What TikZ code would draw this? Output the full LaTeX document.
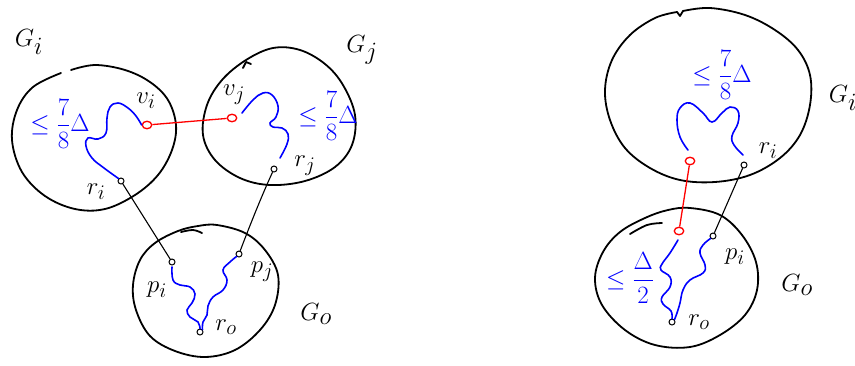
\documentclass[tikz,border=0pt]{standalone}
\usetikzlibrary{shapes.geometric}
\begin{document}
\begin{tikzpicture}[x=1pt,y=-1pt,
  blob/.style={line width=1.8pt, line cap=round, line join=round},
  conn/.style={line width=1.1pt},
  redconn/.style={line width=1.3pt, red},
  wig/.style={line width=1.6pt, blue, line cap=round},
  bv/.style={circle, draw, line width=1pt, inner sep=0pt, minimum size=6pt},
  rv/.style={ellipse, draw=red, line width=1.3pt, inner sep=0pt, minimum width=9.5pt, minimum height=7.5pt},
  lab/.style={font=\fontsize{28}{32}\selectfont, inner sep=0pt},
  big/.style={font=\fontsize{40}{46}\selectfont, inner sep=0pt},
  fr/.style={blue, font=\fontsize{25}{30}\selectfont, inner sep=0pt}]
\useasboundingbox (0,0) rectangle (855,365);
\clip (0,0) rectangle (855,365);

% ---------- left picture: blobs ----------
\draw[blob] plot[smooth, tension=0.6] coordinates {(71,70) (95,65) (125,70) (150,82) (168,100) (176,125) (172,150) (158,175) (135,195) (105,209) (75,209) (45,196) (22,172) (12,140) (17,110) (33,87) (61,73)};
\draw[blob] plot[smooth cycle, tension=0.6] coordinates {(273,48) (300,50) (325,64) (343,85) (355,115) (352,145) (335,167) (305,181) (270,185) (240,178) (215,160) (203,135) (207,105) (222,80) (246,60)};
\draw[blob] (243,68) -- (246,62) -- (251,64);
\draw[blob] plot[smooth cycle, tension=0.6] coordinates {(217,225) (245,233) (265,250) (278,275) (275,305) (260,330) (235,350) (205,357) (175,351) (150,336) (136,310) (133,285) (140,260) (155,243) (178,231) (198,226)};
\draw[blob] plot[smooth, tension=0.6] coordinates {(181,232) (193,230) (202,233)};

% ---------- left picture: labels ----------
\node[big] (Gi) at (29,42) {$G_i$};
\node[big] (Gj) at (362,50) {$G_j$};
\node[big] (G0) at (316,314) {$G_o$};

\node[lab] (lvi) at (146,101) {$v_i$};
\node[lab] (lri) at (96,192) {$r_i$};
\node[lab] (lvj) at (234,95) {$v_j$};
\node[lab] (lrj) at (305,166) {$r_j$};
\node[lab] (lpi) at (157,290) {$p_i$};
\node[lab] (lpj) at (262,272) {$p_j$};
\node[lab] (lr0) at (226,327) {$r_o$};

\node[fr] (fi) at (60,124) {$\displaystyle\le\frac{7}{8}\Delta$};
\node[fr] (fj) at (328,116) {$\displaystyle\le\frac{7}{8}\Delta$};

% ---------- left picture: vertices ----------
\node[rv] (vi) at (147,125) {};
\node[rv] (vj) at (232,118) {};
\node[bv] (ri) at (121,181) {};
\node[bv] (rj) at (274,169) {};
\node[bv] (pi) at (172,262) {};
\node[bv] (pj) at (239,254) {};
\node[bv] (r0) at (200,332) {};

% ---------- left picture: connectors ----------
\draw[redconn] (vi) -- (vj);
\draw[conn] (ri) -- (pi);
\draw[conn] (rj) .. controls (262,195) and (250,225) .. (pj);

\draw[wig] plot[smooth, tension=0.7] coordinates {(ri.north west) (104,168) (92,158) (86,146) (88,138) (98,139) (106,133) (107,118) (110,107) (118,103) (128,108) (136,116) (vi.west)};
\draw[wig] plot[smooth, tension=0.7] coordinates {(242,113) (253,100) (263,93) (272,95) (278,106) (276,117) (270,123) (273,127) (282,128) (288,134) (287,144) (280,158)};
\draw[wig] plot[smooth, tension=0.7] coordinates {(172,267) (173,280) (180,285) (190,287) (195,294) (192,303) (187,310) (190,317) (198,322) (r0.north)};
\draw[wig] plot[smooth, tension=0.7] coordinates {(pj.south west) (230,262) (223,270) (227,280) (223,290) (213,297) (208,306) (207,315) (203,322) (r0.north east)};

% ---------- right picture: blobs ----------
\draw[blob] plot[smooth, tension=0.6] coordinates {(683,11) (710,8) (745,15) (775,30) (798,50) (810,75) (810,105) (800,135) (780,158) (750,175) (715,182) (680,180) (650,168) (625,148) (610,120) (605,90) (612,60) (630,35) (655,18) (677,12)};
\draw[blob] (677,12) -- (680,16) -- (683,11);
\draw[blob] plot[smooth cycle, tension=0.6] coordinates {(690,208) (720,215) (742,235) (756,262) (757,290) (745,315) (720,335) (690,347) (655,345) (625,330) (602,305) (595,278) (603,252) (620,232) (645,218) (668,210)};
\draw[blob] plot[smooth, tension=0.6] coordinates {(630,234) (647,225) (662,223)};

% ---------- right picture: labels ----------
\node[big] (RGi) at (843,98) {$G_i$};
\node[big] (RG0) at (797,285) {$G_o$};
\node[lab] (Rlri) at (768,151) {$r_i$};
\node[lab] (Rlpi) at (735,257) {$p_i$};
\node[lab] (Rlr0) at (699,322) {$r_o$};
\node[fr] (Rfi) at (722,75) {$\displaystyle\le\frac{7}{8}\Delta$};
\node[fr] (Rf0) at (630,278) {$\displaystyle\le\frac{\Delta}{2}$};

% ---------- right picture: vertices ----------
\node[rv] (Ra) at (690,161) {};
\node[bv] (Rri) at (744,165) {};
\node[rv] (Rb) at (679,231) {};
\node[bv] (Rpi) at (713,236) {};
\node[bv] (Rr0) at (672,322) {};

% ---------- right picture: connectors ----------
\draw[redconn] (Ra) -- (Rb);
\draw[conn] (Rri) -- (Rpi);

\draw[wig] plot[smooth, tension=0.7] coordinates {(688,150) (680,137) (677,120) (680,108) (690,103) (703,113) (712,122) (722,113) (730,107) (738,111) (738,123) (732,136) (734,145) (743,155)};
\draw[wig] plot[smooth, tension=0.7] coordinates {(678,240) (670,253) (662,264) (661,270) (670,277) (670,287) (662,297) (663,304) (671,311) (Rr0.north)};
\draw[wig] plot[smooth, tension=0.7] coordinates {(Rpi.south west) (703,245) (700,253) (705,265) (703,273) (690,280) (683,290) (680,303) (677,313) (Rr0.north east)};
\end{tikzpicture}
\end{document}
